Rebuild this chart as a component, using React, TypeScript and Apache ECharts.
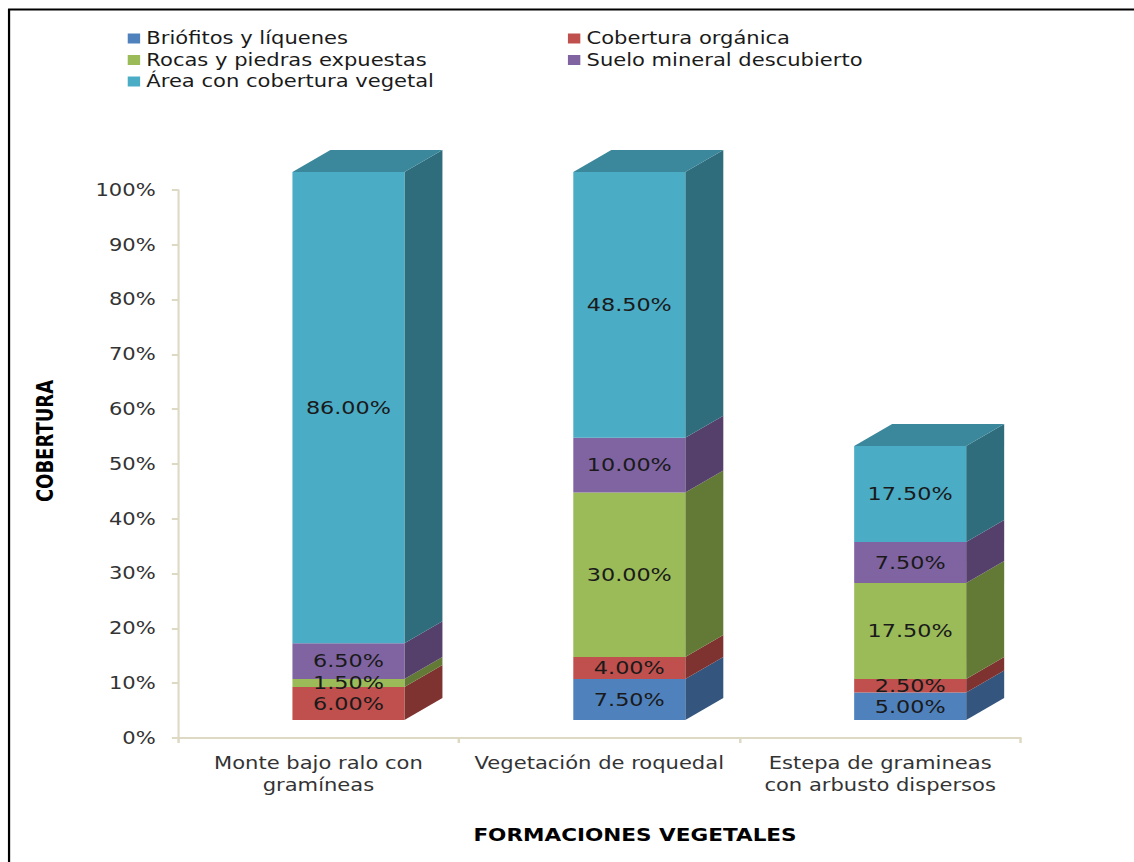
import React, { useEffect, useRef } from 'react';
import * as echarts from 'echarts';

const categories = ['Monte bajo ralo con\ngramíneas', 'Vegetación de roquedal', 'Estepa de gramineas\ncon arbusto dispersos'];
const seriesNames = [
  'Briófitos y líquenes',
  'Cobertura orgánica',
  'Rocas y piedras expuestas',
  'Suelo mineral descubierto',
  'Área con cobertura vegetal',
];
const briofitos = [0, 7.5, 5];
const coberturaOrganica = [6, 4, 2.5];
const rocas = [1.5, 30, 17.5];
const suelo = [6.5, 10, 7.5];
const areaVegetal = [86, 48.5, 17.5];
const seriesValues = [briofitos, coberturaOrganica, rocas, suelo, areaVegetal];

const frontColors = ['#4F81BD', '#C0504D', '#9BBB59', '#8064A2', '#4BACC6'];
const sideColors = ['#34557E', '#7E3330', '#637A36', '#54406B', '#2F6D7D'];
const topColors = ['#3F6897', '#9A403D', '#7C9647', '#665082', '#3B889C'];

const S = 1.24; // horizontal stretch of the whole picture
const W = 1134 / S;
const H = 862;
const FONT = 'DejaVu Sans';

export default function App() {
  const ref = useRef<HTMLDivElement>(null);
  useEffect(() => {
    if (!ref.current) return;
    const chart = echarts.init(ref.current, undefined, { renderer: 'svg' });

    const totals = categories.map((_, i) => seriesValues.reduce((s, arr) => s + arr[i], 0));
    const bases = categories.map(() => 0);
    const series = seriesValues.map((vals, k) => {
      const data = vals.map((v, i) => {
        const b = bases[i];
        const e = b + v;
        bases[i] = e;
        const isTop = v > 0 && Math.abs(e - totals[i]) < 1e-9 ? 1 : 0;
        return [i, b, e, v, isTop];
      });
      return {
        type: 'custom',
        name: seriesNames[k],
        itemStyle: { color: frontColors[k] },
        encode: { x: 0, y: [1, 2] },
        data,
        renderItem: (params: any, api: any) => {
          const i = api.value(0);
          const b = api.value(1);
          const e = api.value(2);
          const v = api.value(3);
          const isTop = api.value(4);
          if (!v) return { type: 'group', children: [] };
          const p0 = api.coord([i, b]);
          const p1 = api.coord([i, e]);
          const w = 112 / S;
          const x0 = p0[0] - 26 / S;
          const dx = 38 / S;
          const dy = 22;
          const off = 18;
          const yb = p0[1] - off;
          const yt = p1[1] - off;
          const children: any[] = [
            {
              type: 'polygon',
              shape: { points: [[x0 + w, yb], [x0 + w + dx, yb - dy], [x0 + w + dx, yt - dy], [x0 + w, yt]] },
              style: { fill: sideColors[k] },
            },
          ];
          if (isTop) {
            children.push({
              type: 'polygon',
              shape: { points: [[x0, yt], [x0 + w, yt], [x0 + w + dx, yt - dy], [x0 + dx, yt - dy]] },
              style: { fill: topColors[k] },
            });
          }
          children.push({
            type: 'rect',
            shape: { x: x0, y: yt, width: w, height: yb - yt },
            style: { fill: frontColors[k] },
          });
          children.push({
            type: 'text',
            z2: 100,
            style: {
              text: v.toFixed(2) + '%',
              x: x0 + w / 2,
              y: (yt + yb) / 2,
              align: 'center',
              verticalAlign: 'middle',
              fontSize: 18,
              fontFamily: FONT,
              fill: '#1a1a1a',
            },
          });
          return { type: 'group', children };
        },
      };
    });

    const legendText = { fontSize: 17, fontFamily: FONT, color: '#1a1a1a', lineHeight: 21 };
    chart.setOption({
      animation: false,
      backgroundColor: '#ffffff',
      legend: [
        {
          left: 103, top: 28, orient: 'vertical', padding: 0, itemGap: 0.5,
          itemWidth: 10, itemHeight: 10, icon: 'rect',
          data: [seriesNames[0], seriesNames[2], seriesNames[4]],
          textStyle: legendText,
        },
        {
          left: 458, top: 28, orient: 'vertical', padding: 0, itemGap: 0.5,
          itemWidth: 10, itemHeight: 10, icon: 'rect',
          data: [seriesNames[1], seriesNames[3]],
          textStyle: legendText,
        },
      ],
      grid: { left: 178 / S, right: W - 1020 / S, top: 190, bottom: H - 738, containLabel: false },
      xAxis: {
        type: 'category',
        data: categories,
        boundaryGap: true,
        axisLine: { lineStyle: { color: '#DDD9C3', width: 2 } },
        axisTick: { show: true, interval: 0, length: 5, lineStyle: { color: '#DDD9C3', width: 2 } },
        axisLabel: { interval: 0, margin: 14, fontSize: 17, fontFamily: FONT, color: '#333', lineHeight: 22 },
      },
      yAxis: {
        type: 'value',
        min: 0,
        max: 100,
        interval: 10,
        splitLine: { show: false },
        axisLine: { show: true, lineStyle: { color: '#DDD9C3', width: 1.7 } },
        axisTick: { show: true, length: 5, lineStyle: { color: '#DDD9C3', width: 2 } },
        axisLabel: { formatter: '{value}%', margin: 18, fontSize: 17, fontFamily: FONT, color: '#333' },
      },
      graphic: [
        { type: 'line', shape: { x1: 7.3, y1: 9, x2: 7.3, y2: H }, style: { stroke: '#000', lineWidth: 1.8 } },
        { type: 'line', shape: { x1: 6.5, y1: 9.5, x2: W, y2: 9.5 }, style: { stroke: '#000', lineWidth: 2 } },
        {
          type: 'text', x: 45 / S, y: 441, rotation: Math.PI / 2,
          style: { text: 'COBERTURA', align: 'center', verticalAlign: 'middle', fontSize: 18, fontWeight: 'bold', fontFamily: FONT, fill: '#000' },
        },
        {
          type: 'text', x: 635 / S, y: 835,
          style: { text: 'FORMACIONES VEGETALES', align: 'center', verticalAlign: 'middle', fontSize: 17.4, fontWeight: 'bold', fontFamily: FONT, fill: '#000' },
        },
      ],
      series,
    });
    return () => chart.dispose();
  }, []);

  return (
    <div
      ref={ref}
      style={{
        position: 'absolute',
        left: 0,
        top: 0,
        width: W + 'px',
        height: H + 'px',
        transform: `scaleX(${S})`,
        transformOrigin: 'left top',
        background: '#fff',
      }}
    />
  );
}
